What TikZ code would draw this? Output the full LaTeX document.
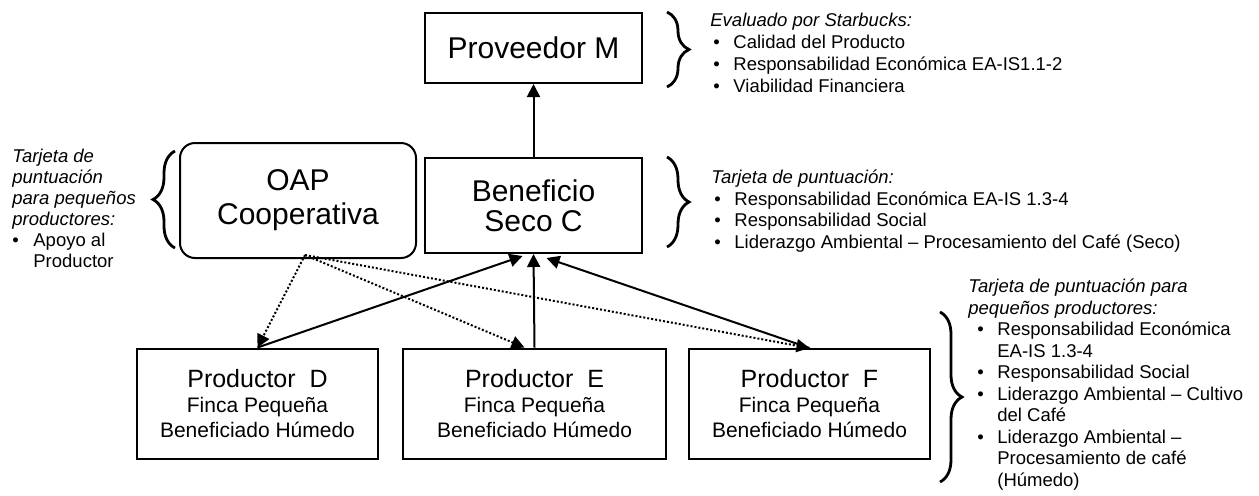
\documentclass[tikz,border=0pt]{standalone}
\usepackage{fontspec}
\setmainfont{Liberation Sans}
\usetikzlibrary{arrows.meta,decorations.pathreplacing}

% bullet with its own indent and width
\newcommand{\bltat}[2]{\hspace*{#1}\makebox[#2][l]{\textbullet}}

\begin{document}
\begin{tikzpicture}[x=0.5pt,y=-0.5pt,
    box/.style={draw,line width=1pt,align=center,inner sep=0pt},
    rbox/.style={box,rounded corners=7.5pt},
    prodbox/.style={box,minimum height=55pt,
      font=\fontsize{10.5pt}{12.5pt}\selectfont},
    txt/.style={align=left,inner sep=0pt,anchor=base west,
      font=\fontsize{9.25pt}{10.75pt}\selectfont},
    arr/.style={line width=1pt,-{Triangle[length=6.5pt,width=6.5pt]}},
    darr/.style={line width=1pt,dash pattern=on 1pt off 1pt,
      -{Triangle[length=6.5pt,width=6.5pt]}},
    brc/.style={line width=1.4pt,decorate,decoration={brace,amplitude=11pt}}]
    \useasboundingbox (0,0) rectangle (1259,495);

    \coordinate (P0) at (533.5,48);
    \coordinate (P1) at (533.5,205.5);
    \coordinate (P2) at (298,200.5);
    \coordinate (P3) at (257.5,403.5);
    \coordinate (P4) at (534.5,403.5);
    \coordinate (P5) at (809.5,404);

    \node [box,minimum width=108.5pt,minimum height=35pt,font=\fontsize{15pt}{17pt}\selectfont] (prov) at (P0) {Proveedor M};
    \node [box,minimum width=108.5pt,minimum height=47.5pt,font=\fontsize{15pt}{15pt}\selectfont] (bene) at (P1) {Beneficio\\Seco C};
    \node [rbox,minimum width=118pt,minimum height=57.5pt,font=\fontsize{15pt}{17pt}\selectfont] (oap) at (P2) {OAP\\Cooperativa};
    \node [prodbox,minimum width=120.5pt] (prodD) at (P3) {{\fontsize{12.5pt}{12.5pt}\selectfont Productor\ \ D}\\Finca Pequeña\\Beneficiado Húmedo};
    \node [prodbox,minimum width=131.5pt] (prodE) at (P4) {{\fontsize{12.5pt}{12.5pt}\selectfont Productor\ \ E}\\Finca Pequeña\\Beneficiado Húmedo};
    \node [prodbox,minimum width=120.5pt] (prodF) at (P5) {{\fontsize{12.5pt}{12.5pt}\selectfont Productor\ \ F}\\Finca Pequeña\\Beneficiado Húmedo};

    \coordinate (hubD) at ([xshift=-5.5pt,yshift=-1pt]bene.south);
    \coordinate (hubF) at ([xshift=6.5pt,yshift=-2pt]bene.south);
    \coordinate (oapout) at ([xshift=3.5pt,yshift=2pt]oap.south);
    \coordinate (inE) at ([xshift=-5pt]prodE.north);

    \draw [arr] (bene) -- (prov);
    \draw [arr] (prodD.north) -- (hubD);
    \draw [arr] (prodE.north) -- (bene.south);
    \draw [arr] (prodF.north) -- (hubF);
    \draw [darr] (oapout) -- (prodD.north);
    \draw [darr] (oapout) -- (inE);
    \draw [darr] (oapout) -- (prodF.north);

    % braces
    \draw [brc] (667,12) -- (667,87);
    \draw [brc] (667,157) -- (667,247);
    \draw [brc] (940,312) -- (940,482);
    \draw [brc] (175,248) -- (175,151);

    % text blocks, placed at the baseline of their last line
    \node [txt,font=\fontsize{9.25pt}{11pt}\selectfont] (evalTxt) at (710,92) {\textit{Evaluado por Starbucks:}\\
      \bltat{1.5pt}{10pt}Calidad del Producto\\
      \bltat{1.5pt}{10pt}Responsabilidad Económica EA-IS1.1-2\\
      \bltat{1.5pt}{10pt}Viabilidad Financiera};
    \node [txt] (beneTxt) at (711,248) {\textit{Tarjeta de puntuación:}\\
      \bltat{1.5pt}{10pt}Responsabilidad Económica EA-IS 1.3-4\\
      \bltat{1.5pt}{10pt}Responsabilidad Social\\
      \bltat{1.5pt}{10pt}Liderazgo Ambiental – Procesamiento del Café (Seco)};
    \node [txt] (prodTxt) at (968,486) {\textit{Tarjeta de puntuación para}\\
      \textit{pequeños productores:}\\
      \bltat{4.5pt}{10pt}Responsabilidad Económica\\
      \hspace*{14.5pt}EA-IS 1.3-4\\
      \bltat{4.5pt}{10pt}Responsabilidad Social\\
      \bltat{4.5pt}{10pt}Liderazgo Ambiental – Cultivo\\
      \hspace*{14.5pt}del Café\\
      \bltat{4.5pt}{10pt}Liderazgo Ambiental –\\
      \hspace*{14.5pt}Procesamiento de café\\
      \hspace*{14.5pt}(Húmedo)};
    \node [txt,font=\fontsize{9.25pt}{10.5pt}\selectfont] (oapTxt) at (12,267) {\textit{Tarjeta de}\\
      \textit{puntuación}\\
      \textit{para pequeños}\\
      \textit{productores:}\\
      \bltat{0pt}{10.5pt}Apoyo al\\
      \hspace*{10.5pt}Productor};
\end{tikzpicture}
\end{document}
